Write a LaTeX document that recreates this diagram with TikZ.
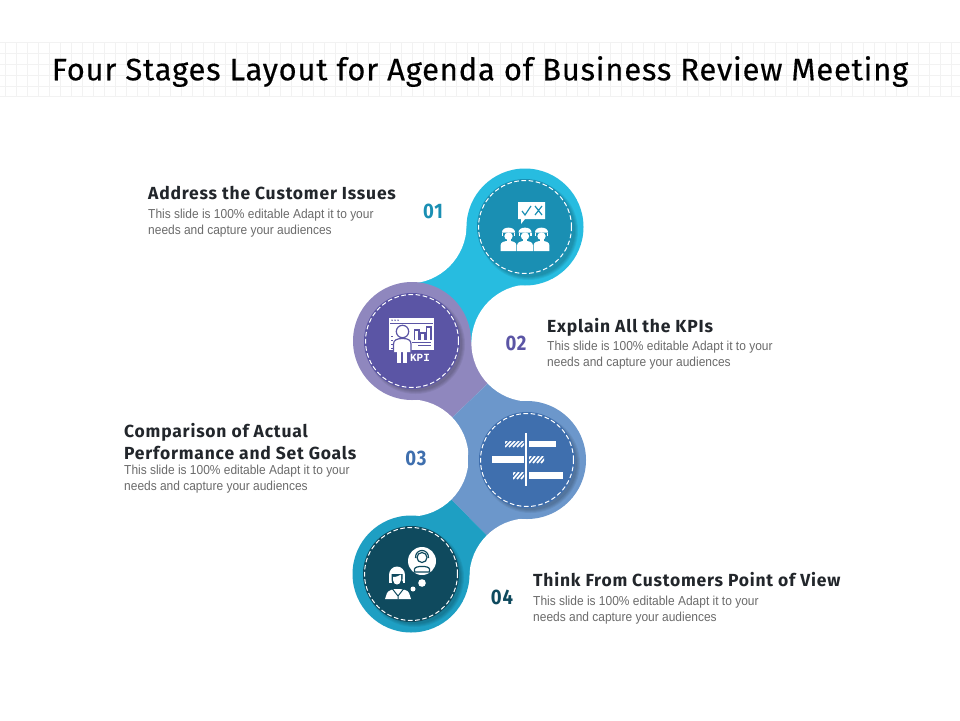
\documentclass[tikz,border=0pt]{standalone}
\usepackage{fontspec}
\setmainfont{Fira Sans}
\newfontfamily\titlefont[LetterSpace=2.5,FakeBold=0.35]{Fira Sans}
\newfontfamily\headfont[LetterSpace=4.5,BoldFont={Fira Sans Bold}]{Fira Sans}
\newfontfamily\bodyfont[FakeStretch=0.92]{Liberation Sans}
\newfontfamily\numfont[LetterSpace=4,FakeStretch=0.88]{Fira Sans}
\newfontfamily\kpifont{Liberation Mono}
\definecolor{outA}{HTML}{27BCE0}\definecolor{inA}{HTML}{1A8FB3}
\definecolor{outB}{HTML}{8F87BE}\definecolor{inB}{HTML}{5B55A5}
\definecolor{outC}{HTML}{6C97CB}\definecolor{inC}{HTML}{3F6FAE}
\definecolor{outD}{HTML}{1E9FC3}\definecolor{inD}{HTML}{0F4A5E}
\definecolor{gridc}{HTML}{F2F2F2}
\definecolor{headc}{HTML}{22262B}\definecolor{bodyc}{HTML}{6B6B6B}
\tikzset{
  heading/.style={anchor=north west,inner sep=0pt,align=left,text=headc,font=\headfont\bfseries\fontsize{17.5}{22}\selectfont},
  bodytext/.style={anchor=north west,inner sep=0pt,align=left,text=bodyc,font=\bodyfont\fontsize{13}{16}\selectfont},
  numlabel/.style={inner sep=0pt,font=\numfont\bfseries\fontsize{21}{21}\selectfont},
  ring/.style={draw=white,line width=1pt,dash pattern=on 4.6pt off 2.6pt},
  ico/.style={fill=white,draw=none},
}
\newcommand\stagedisc[3]{%
  \foreach \rr in {49.5,48.5,47.5,46.5}{\fill[black,opacity=0.06] (#1+3.5,#2+3.5) circle (\rr pt);}
  \fill[#3] (#1,#2) circle (48pt);
  \draw[ring] (#1,#2) circle (46.5pt);
}
\begin{document}
\begin{tikzpicture}[x=1pt,y=-1pt]
\useasboundingbox (0,0) rectangle (960,720);
\fill[white] (0,0) rectangle (960,720);
% title band grid
\foreach \gx in {5,16,...,960}{\draw[gridc,line width=0.6pt] (\gx,42) -- (\gx,96);}
\foreach \gy in {42,53,64,75,86,96}{\draw[gridc,line width=0.6pt] (0,\gy) -- (960,\gy);}
\node[inner sep=0pt,font=\titlefont\fontsize{31}{31}\selectfont,text=black] (title) at (480,71.5) {Four Stages Layout for Agenda of Business Review Meeting};
% centres of the white hollows
\coordinate (ca) at (525,227); \coordinate (cb) at (412,341);
\coordinate (cc) at (527,460); \coordinate (cd) at (411,574);
\coordinate (wa) at (408,225); \coordinate (wb) at (530,343);
\coordinate (wc) at (410,458); \coordinate (wd) at (528,577);
% connectors
\fill[outA] (ca) -- (wa) -- (cb) -- (wb) -- cycle;
\fill[outB] (cb) -- (wb) -- (wc) -- cycle;
\fill[outC] (cc) -- (wb) -- (wc) -- cycle;
\fill[outC] (cc) -- (wc) -- (wd) -- cycle;
\fill[outD] (cd) -- (wc) -- (wd) -- cycle;
% hollows
\foreach \w in {wa,wb,wc,wd}{\fill[white] (\w) circle (58.6pt);}
% outer circles
\fill[outA] (ca) circle (58.5pt);
\fill[outB] (cb) circle (59pt);
\fill[outC] (cc) circle (59pt);
\fill[outD] (cd) circle (58.5pt);
% discs
\stagedisc{525}{227}{inA}
\stagedisc{412}{341}{inB}
\stagedisc{527}{460}{inC}
\stagedisc{411}{574}{inD}
% icon 1
\fill[ico] (518,202) -- (545,202) -- (545,219) -- (525,219) -- (521,224) -- (521,219) -- (518,219) -- cycle;
\draw[inA,line width=1.2pt] (522,211) -- (525,215) -- (531,206);
\draw[inA,line width=1.2pt] (535,206) -- (542,215) (542,206) -- (535,215);
\foreach \px in {508.5,525,541.5}{
  \fill[ico] (\px-7.8,251) -- (\px-7.8,245) .. controls (\px-7.8,242) and (\px-4,241) .. (\px,241) .. controls (\px+4,241) and (\px+7.8,242) .. (\px+7.8,245) -- (\px+7.8,251) -- cycle;
  \fill[ico] (\px-6.5,232.5) .. controls (\px-7,226) and (\px+7,226) .. (\px+6.5,232.5) -- cycle;
  \fill[ico] (\px-6.5,233.4) rectangle (\px-5.2,236);
  \fill[ico] (\px+5.2,233.4) rectangle (\px+6.5,236);
  \fill[ico] (\px,236.2) ellipse (4.2pt and 3.8pt);
  \fill[ico] (\px-2,239) rectangle (\px+2,242);
}
% icon 2
\fill[ico] (389,318) rectangle (433.5,350);
\fill[inB] (390,322.5) rectangle (433,323.3);
\foreach \dx in {392,395,398}{\fill[inB] (\dx,320.2) circle (0.8pt);}
\foreach \bx/\by in {414.5/330,420.5/333,426.5/327}{\draw[inB,line width=1.1pt] (\bx,340) -- (\bx,\by) -- (\bx+4.5,\by) -- (\bx+4.5,340);}
\draw[inB,line width=1pt] (412,342.5) -- (431,342.5) (418,345.5) -- (431,345.5);
\foreach \dy in {336,340,344,348}{\fill[inB] (390.5,\dy) rectangle (392.5,\dy+1.3);}
\fill[inB] (393,350) rectangle (434,352);
\draw[inB,line width=1.2pt,fill=white] (402.5,331.5) circle (6.2pt);
\draw[inB,line width=1.2pt,fill=white] (393.5,352) -- (393.5,344) .. controls (393.5,340) and (397,338.5) .. (402.5,338.5) .. controls (408,338.5) and (411,340) .. (411,344) -- (411,352);
\fill[ico] (395,342) rectangle (409.7,351);
\fill[ico] (397,350) rectangle (401.2,363);
\fill[ico] (403,350) rectangle (407.2,363);
\node[inner sep=0pt,text=white,font=\kpifont\bfseries\fontsize{11}{11}\selectfont] (kpi) at (420,358) {KPI};
% icon 3
\fill[ico] (525.2,433) rectangle (527.2,486);
\fill[ico] (529,441) rectangle (556,447);
\fill[ico] (492,456) rectangle (524,463);
\fill[ico] (529,472) rectangle (563,479);
\foreach \xa/\xb/\ya/\yb in {505/524/441/447,529/544/456/463,513/524/472/479}{
  \begin{scope}
    \clip (\xa,\ya) rectangle (\xb,\yb);
    \foreach \t in {-8,-4,...,40}{\draw[white,line width=1.7pt] (\xa+\t,\yb) -- (\xa+\t+6,\ya);}
  \end{scope}
}
% icon 4
\fill[ico] (422,561) circle (14pt);
\fill[ico] (422,583) circle (3.8pt);
\fill[ico] (413,589) circle (2.5pt);
\draw[inD,line width=1.2pt] (422,557.5) circle (5pt);
\draw[inD,line width=1.2pt] (414.5,572) -- (414.5,569) .. controls (415,565.5) and (429,565.5) .. (429.5,569) -- (429.5,572) -- cycle;
\draw[inD,line width=1.2pt] (415.5,558) .. controls (415,548) and (429,548) .. (428.5,558);
\fill[ico] (385,599) -- (387,593) .. controls (389,590) and (393,589) .. (397,589) .. controls (403,589) and (408,590) .. (409,593) -- (411,599) -- cycle;
\fill[ico] (397,575) ellipse (8pt and 8.5pt);
\fill[ico] (389,575) rectangle (391.5,583);
\fill[ico] (402.5,575) rectangle (405,583);
\fill[inD] (391.5,574) -- (402.5,574) -- (402.5,579) .. controls (402.5,588) and (391.5,588) .. (391.5,579) -- cycle;
\fill[ico] (393,577) .. controls (397,577) and (398,576) .. (401,574.5) -- (401,580) .. controls (400.5,586) and (393.5,586) .. (393,580) -- cycle;
\draw[inD,line width=1pt] (392.5,589) -- (398,596) -- (403.5,589) (398,596) -- (398,599);
% numbers
\node[numlabel,text=inA] (n1) at (433,211) {01};
\node[numlabel,text=inB] (n2) at (516,343) {02};
\node[numlabel,text=inC] (n3) at (416,458) {03};
\node[numlabel,text=inD] (n4) at (502,597) {04};
% texts
\node[heading] (h1) at (148,186) {Address the Customer Issues};
\node[bodytext] (b1) at (148,209) {This slide is 100\% editable Adapt it to your\\needs and capture your audiences};
\node[heading] (h2) at (547,318) {Explain All the KPIs};
\node[bodytext] (b2) at (547,341) {This slide is 100\% editable Adapt it to your\\needs and capture your audiences};
\node[heading] (h3) at (124,423) {Comparison of Actual\\Performance and Set Goals};
\node[bodytext] (b3) at (124,465) {This slide is 100\% editable Adapt it to your\\needs and capture your audiences};
\node[heading] (h4) at (533,572) {Think From Customers Point of View};
\node[bodytext] (b4) at (533,596) {This slide is 100\% editable Adapt it to your\\needs and capture your audiences};
\end{tikzpicture}
\end{document}
